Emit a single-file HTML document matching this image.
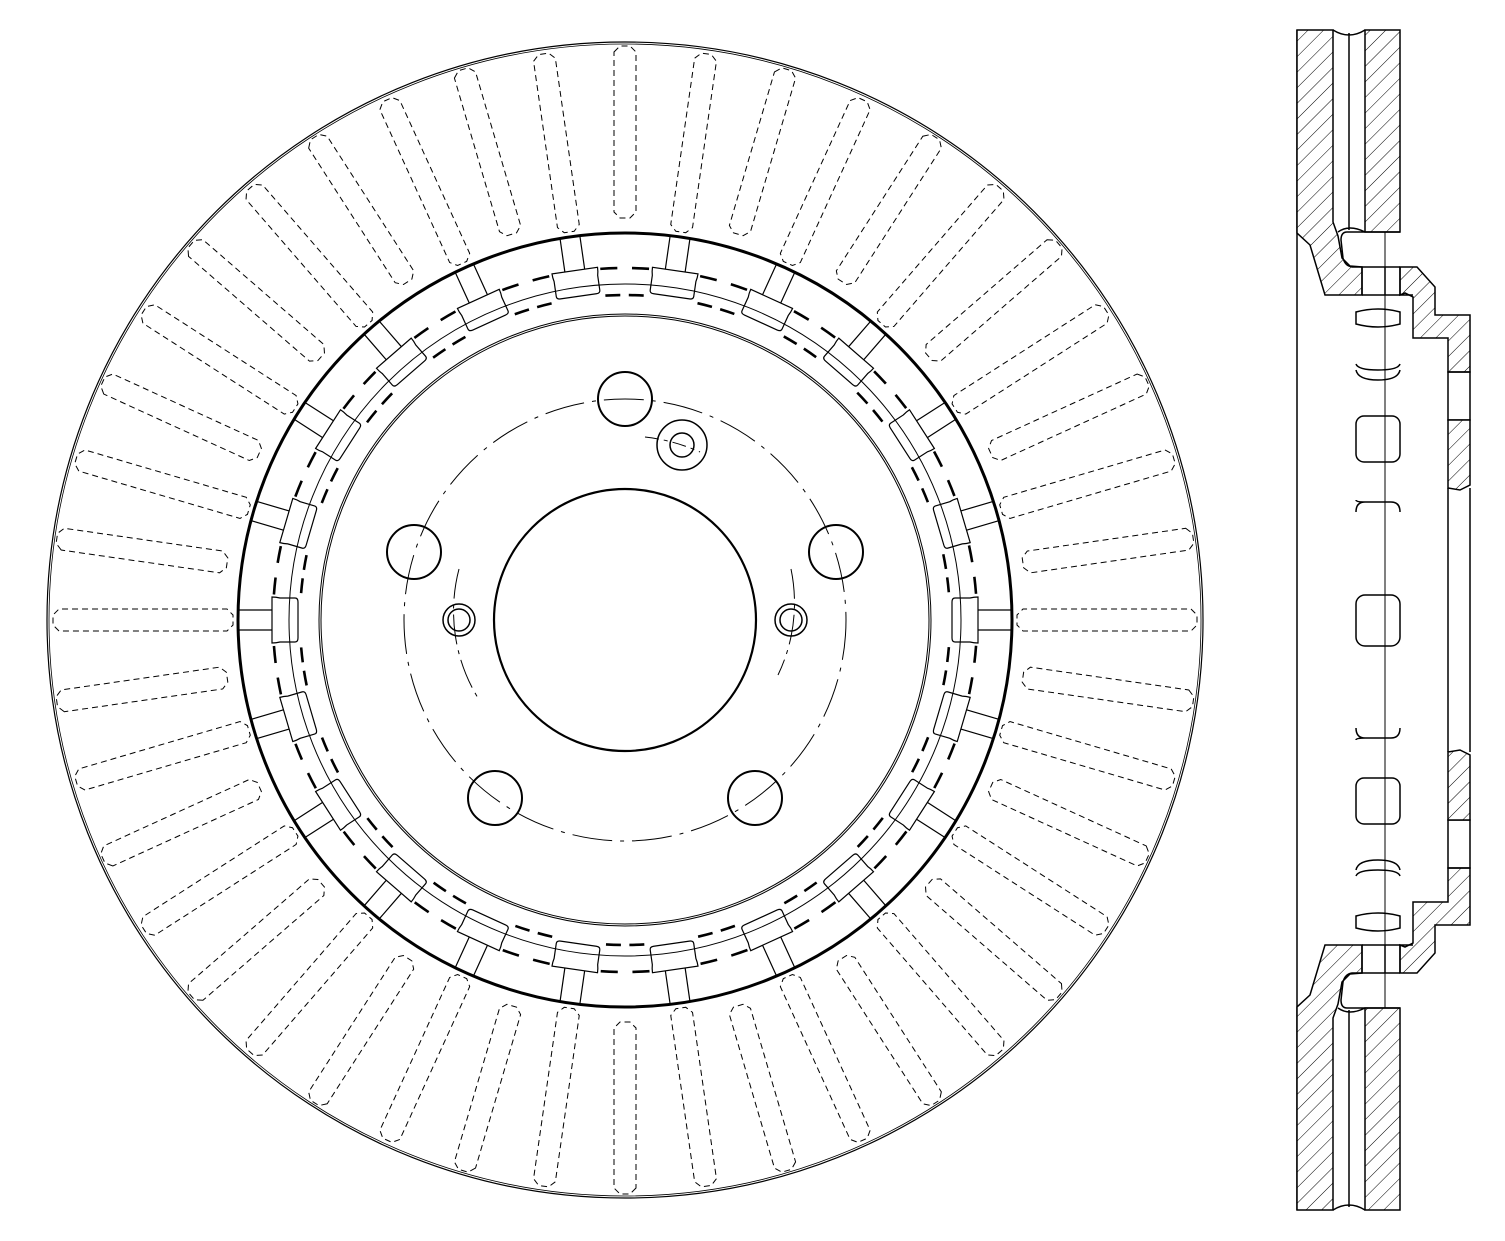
<!DOCTYPE html>
<html><head><meta charset="utf-8"><style>html,body{margin:0;padding:0;background:#fff}svg{display:block}</style></head>
<body>
<svg width="1505" height="1241" viewBox="0 0 1505 1241" xmlns="http://www.w3.org/2000/svg" xmlns:xlink="http://www.w3.org/1999/xlink">
<defs>
<pattern id="h" patternUnits="userSpaceOnUse" width="11" height="11" patternTransform="rotate(45)">
<rect width="11" height="11" fill="#fff"/><line x1="0" y1="0" x2="0" y2="11" stroke="#000" stroke-width="1"/>
</pattern>
<pattern id="h2" patternUnits="userSpaceOnUse" width="11" height="11" patternTransform="rotate(-45)">
<rect width="11" height="11" fill="#fff"/><line x1="0" y1="0" x2="0" y2="11" stroke="#000" stroke-width="1"/>
</pattern>
<path id="S" d="M-11,-568 L-5,-574 L5,-574 L11,-568 L11,-408 L5,-402 L-5,-402 L-11,-408 Z" fill="none" stroke="#000" stroke-width="1" stroke-dasharray="6 4"/>
<g id="L" fill="none" stroke="#000">
<path d="M-11,-566 L-5,-572 L5,-572 L11,-566 L11,-398 L5,-392 L-5,-392 L-11,-398 Z" stroke-width="1" stroke-dasharray="6 4"/>
<path d="M-10,-388 L-10,-353 M10,-388 L10,-353" stroke-width="1.2"/>
<path d="M-23,-353 Q-23,-349 -22,-345 L-22,-330 Q-22,-327 -18,-327 L18,-327 Q22,-327 22,-330 L22,-345 Q23,-349 23,-353 Z" stroke-width="1.2"/>
</g>
</defs>
<g fill="none" stroke="#000">
<circle cx="625" cy="620" r="578" stroke-width="1.2"/>
<circle cx="625" cy="620" r="576" stroke-width="0.8"/>
<circle cx="625" cy="620" r="387" stroke-width="3"/>
<circle cx="625" cy="620" r="336" stroke-width="1"/>
<circle cx="625" cy="620" r="306" stroke-width="1"/>
<circle cx="625" cy="620" r="304" stroke-width="1"/>
<circle cx="625" cy="620" r="352" stroke-width="2.6" pathLength="2200" stroke-dasharray="0 25.67 17 14.67 17 25.67"/>
<circle cx="625" cy="620" r="325" stroke-width="2.6" pathLength="2200" stroke-dasharray="0 29.3 16.1 9.2 16.1 29.3"/>
<circle cx="625" cy="620" r="131" stroke-width="2.2"/>
<circle cx="625" cy="620" r="221" stroke-width="1" stroke-dasharray="40 8 4 8"/>
<circle cx="625" cy="399" r="27" stroke-width="2"/>
<circle cx="414" cy="552" r="27" stroke-width="2"/>
<circle cx="836" cy="552" r="27" stroke-width="2"/>
<circle cx="495" cy="798" r="27" stroke-width="2"/>
<circle cx="755" cy="798" r="27" stroke-width="2"/>
<circle cx="459" cy="620" r="16" stroke-width="1.5"/>
<circle cx="459" cy="620" r="11" stroke-width="1.5"/>
<circle cx="791" cy="620" r="16" stroke-width="1.5"/>
<circle cx="791" cy="620" r="11" stroke-width="1.5"/>
<circle cx="682" cy="445" r="25" stroke-width="1.5"/>
<circle cx="682" cy="445" r="12" stroke-width="1.5"/>
<path d="M459 569 A166 166 0 0 0 478 698" stroke-width="1" stroke-dasharray="30 6 4 6"/>
<path d="M791 569 A166 166 0 0 1 778 675" stroke-width="1" stroke-dasharray="30 6 4 6"/>
<path d="M645 437 A184 184 0 0 1 700 452" stroke-width="1" stroke-dasharray="14 5 4 5"/>
</g>
<g transform="translate(625,620)">
<use href="#S" xlink:href="#S" transform="rotate(0)"/>
<use href="#L" xlink:href="#L" transform="rotate(8.182)"/>
<use href="#S" xlink:href="#S" transform="rotate(16.364)"/>
<use href="#L" xlink:href="#L" transform="rotate(24.545)"/>
<use href="#S" xlink:href="#S" transform="rotate(32.727)"/>
<use href="#L" xlink:href="#L" transform="rotate(40.909)"/>
<use href="#S" xlink:href="#S" transform="rotate(49.091)"/>
<use href="#L" xlink:href="#L" transform="rotate(57.273)"/>
<use href="#S" xlink:href="#S" transform="rotate(65.455)"/>
<use href="#L" xlink:href="#L" transform="rotate(73.636)"/>
<use href="#S" xlink:href="#S" transform="rotate(81.818)"/>
<use href="#L" xlink:href="#L" transform="rotate(90)"/>
<use href="#S" xlink:href="#S" transform="rotate(98.182)"/>
<use href="#L" xlink:href="#L" transform="rotate(106.364)"/>
<use href="#S" xlink:href="#S" transform="rotate(114.545)"/>
<use href="#L" xlink:href="#L" transform="rotate(122.727)"/>
<use href="#S" xlink:href="#S" transform="rotate(130.909)"/>
<use href="#L" xlink:href="#L" transform="rotate(139.091)"/>
<use href="#S" xlink:href="#S" transform="rotate(147.273)"/>
<use href="#L" xlink:href="#L" transform="rotate(155.455)"/>
<use href="#S" xlink:href="#S" transform="rotate(163.636)"/>
<use href="#L" xlink:href="#L" transform="rotate(171.818)"/>
<use href="#S" xlink:href="#S" transform="rotate(180)"/>
<use href="#L" xlink:href="#L" transform="rotate(188.182)"/>
<use href="#S" xlink:href="#S" transform="rotate(196.364)"/>
<use href="#L" xlink:href="#L" transform="rotate(204.545)"/>
<use href="#S" xlink:href="#S" transform="rotate(212.727)"/>
<use href="#L" xlink:href="#L" transform="rotate(220.909)"/>
<use href="#S" xlink:href="#S" transform="rotate(229.091)"/>
<use href="#L" xlink:href="#L" transform="rotate(237.273)"/>
<use href="#S" xlink:href="#S" transform="rotate(245.455)"/>
<use href="#L" xlink:href="#L" transform="rotate(253.636)"/>
<use href="#S" xlink:href="#S" transform="rotate(261.818)"/>
<use href="#L" xlink:href="#L" transform="rotate(270)"/>
<use href="#S" xlink:href="#S" transform="rotate(278.182)"/>
<use href="#L" xlink:href="#L" transform="rotate(286.364)"/>
<use href="#S" xlink:href="#S" transform="rotate(294.545)"/>
<use href="#L" xlink:href="#L" transform="rotate(302.727)"/>
<use href="#S" xlink:href="#S" transform="rotate(310.909)"/>
<use href="#L" xlink:href="#L" transform="rotate(319.091)"/>
<use href="#S" xlink:href="#S" transform="rotate(327.273)"/>
<use href="#L" xlink:href="#L" transform="rotate(335.455)"/>
<use href="#S" xlink:href="#S" transform="rotate(343.636)"/>
<use href="#L" xlink:href="#L" transform="rotate(351.818)"/>
</g>
<g stroke="#000" stroke-width="1.5">
<line x1="1297" y1="30" x2="1297" y2="1210"/>
<g>
<polygon fill="url(#h)" points="1297,30 1333,30 1333,222 1338,236 1342,258 1350,266 1362,267 1362,295 1325,295 1310,245 1297,233"/>
<polygon fill="url(#h)" points="1365,30 1400,30 1400,232 1365,232"/>
<path fill="none" d="M1333,30 Q1349,40 1365,30 M1349,33 L1349,230 M1338,232 Q1349,224 1365,232 M1400,232 L1347,232 Q1341,232 1341,240 L1343,258 Q1345,266 1352,267 L1400,267"/>
<polygon fill="url(#h)" points="1400,267 1417,267 1435,287 1435,315 1470,315 1470,372 1448,372 1448,338 1413,338 1413,297 1405,293 1400,295"/>
<path fill="none" d="M1362,267 L1362,295 M1400,267 L1400,295 M1385,267 L1385,295 M1362,295 L1413,295"/>
<rect x="1448" y="372" width="22" height="48" fill="none"/>
<polygon fill="url(#h)" points="1448,420 1470,420 1470,485 1460,490 1448,488"/>
<path fill="none" d="M1356,312 Q1378,306 1400,312 L1400,324 Q1378,330 1356,324 Z"/>
<path fill="none" d="M1356,364 Q1358,370 1378,370 Q1398,370 1400,364 M1356,370 Q1358,380 1378,380 Q1398,380 1400,370"/>
<rect x="1356" y="416" width="44" height="46" rx="8" fill="none"/>
<path fill="none" d="M1356,500 Q1356,502 1365,502 L1391,502 Q1400,502 1400,512 M1356,512 Q1356,502 1365,502"/>
</g>
<g transform="translate(0,1240) scale(1,-1)">
<polygon fill="url(#h2)" points="1297,30 1333,30 1333,222 1338,236 1342,258 1350,266 1362,267 1362,295 1325,295 1310,245 1297,233"/>
<polygon fill="url(#h2)" points="1365,30 1400,30 1400,232 1365,232"/>
<path fill="none" d="M1333,30 Q1349,40 1365,30 M1349,33 L1349,230 M1338,232 Q1349,224 1365,232 M1400,232 L1347,232 Q1341,232 1341,240 L1343,258 Q1345,266 1352,267 L1400,267"/>
<polygon fill="url(#h2)" points="1400,267 1417,267 1435,287 1435,315 1470,315 1470,372 1448,372 1448,338 1413,338 1413,297 1405,293 1400,295"/>
<path fill="none" d="M1362,267 L1362,295 M1400,267 L1400,295 M1385,267 L1385,295 M1362,295 L1413,295"/>
<rect x="1448" y="372" width="22" height="48" fill="none"/>
<polygon fill="url(#h2)" points="1448,420 1470,420 1470,485 1460,490 1448,488"/>
<path fill="none" d="M1356,312 Q1378,306 1400,312 L1400,324 Q1378,330 1356,324 Z"/>
<path fill="none" d="M1356,364 Q1358,370 1378,370 Q1398,370 1400,364 M1356,370 Q1358,380 1378,380 Q1398,380 1400,370"/>
<rect x="1356" y="416" width="44" height="46" rx="8" fill="none"/>
<path fill="none" d="M1356,500 Q1356,502 1365,502 L1391,502 Q1400,502 1400,512 M1356,512 Q1356,502 1365,502"/>
</g>
<line x1="1448" y1="488" x2="1448" y2="752" fill="none"/>
<line x1="1470" y1="488" x2="1470" y2="752" fill="none"/>
<rect x="1356" y="595" width="44" height="51" rx="9" fill="none"/>
<line x1="1385" y1="232" x2="1385" y2="1008" stroke-width="1"/>
</g>
</svg>
</body></html>
